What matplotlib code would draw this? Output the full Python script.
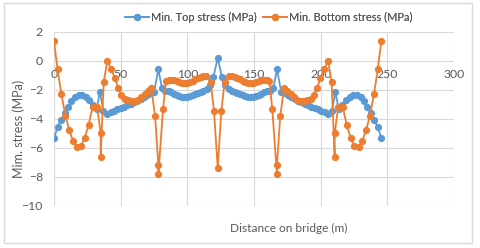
import matplotlib.pyplot as plt
from matplotlib.patches import Rectangle

# Min. Top stress (blue)
top_x = [0, 2.7, 5.5, 8.1, 10.6, 13, 15.6, 18.4, 21, 23.7, 26.3, 29.2, 32, 34.5, 37, 40,
         42.5, 45, 47.5, 50, 52.5, 55, 57.5, 60, 62.5, 65, 67.5, 70, 72.5, 75, 78.3, 81, 83.5,
         86, 88, 90, 92, 94, 96, 98, 100, 102, 104, 106, 108, 110, 112, 114.5, 117, 119.5,
         122.8,
         126, 128.5, 131, 133.5, 135.5, 137.5, 139.5, 141.5, 143.5, 145.5, 147.5, 149.5, 151.5,
         153.5, 155.5, 157.5, 159.5, 162, 164.5, 167.2, 170.5, 173, 175.5, 178, 180.5, 183,
         185.5, 188, 190.5, 193, 195.5, 198, 200.5, 203, 205.5, 208.5, 211, 213.5, 216.3,
         219.2, 221.8, 224.5, 227.1, 229.9, 232.4, 234.9, 237.4, 240, 242.8, 245.5]
top_y = [-5.35, -4.55, -4.05, -3.6, -3.2, -2.8, -2.5, -2.36, -2.38, -2.5, -2.7, -3.05, -3.3,
         -2.15, -3.45, -3.65,
         -3.55, -3.45, -3.35, -3.25, -3.15, -3.05, -2.95, -2.85, -2.75, -2.62, -2.5, -2.38,
         -2.25, -2.15, -0.6, -1.9, -2.1,
         -2.05, -2.15, -2.27, -2.37, -2.45, -2.5, -2.52, -2.5, -2.45, -2.38, -2.3, -2.22, -2.13,
         -2.05, -1.95, -1.65, -1.15,
         0.2,
         -1.15, -1.65, -1.95, -2.05, -2.13, -2.22, -2.3, -2.38, -2.45, -2.5, -2.52, -2.5, -2.45,
         -2.37, -2.27, -2.15, -2.05, -2.1, -1.9, -0.6, -2.15, -2.25, -2.38, -2.5, -2.62, -2.75,
         -2.85, -2.95, -3.05, -3.15, -3.25, -3.35, -3.45, -3.55, -3.65, -3.45, -2.15, -3.3,
         -3.05, -2.7, -2.5, -2.38, -2.36, -2.5, -2.8, -3.2, -3.6, -4.05, -4.55, -5.35]

# Min. Bottom stress (orange)
bot_x = [0, 2.7, 5.5, 8.6, 11.5, 14.2, 17, 20.3, 23, 26, 29, 32.3, 35, 35, 37.3, 40, 42.8,
         45.7, 48.2, 50.6, 53, 55.5, 58, 60.5, 63, 65.5, 68, 70.5, 73, 75.8, 78.3, 78.3, 81.8,
         84, 86, 88, 90, 92, 94, 96, 98, 100, 102, 104, 106, 108, 110, 112, 114, 117.5, 120,
         122.8,
         125.5, 128, 131.5, 133.5, 135.5, 137.5, 139.5, 141.5, 143.5, 145.5, 147.5, 149.5,
         151.5, 153.5, 155.5, 157.5, 159.5, 161.5, 163.7, 167.2, 167.2, 169.7, 172.5, 175,
         177.5, 180, 182.5, 185, 187.5, 190, 192.5, 194.9, 197.3, 199.8, 202.7, 205.5, 208.2,
         210.5, 210.5, 213.2, 216.5, 219.5, 222.5, 225.2, 228.5, 231.3, 234, 236.9, 240, 242.8,
         245.5]
bot_y = [1.35, -0.6, -2.3, -3.8, -4.8, -5.5, -5.95, -5.85, -5.3, -4.4, -3.15, -3.15, -5.0,
         -6.6, -1.45, 0.0, -0.55, -1.2, -1.9, -2.35, -2.6, -2.72, -2.8, -2.78, -2.68, -2.5,
         -2.3, -2.05, -1.9, -3.8, -7.2, -7.8, -3.3,
         -1.4, -1.3, -1.3, -1.35, -1.42, -1.48, -1.52, -1.53, -1.5, -1.45, -1.38, -1.28, -1.18,
         -1.1, -1.05, -1.02, -1.45, -3.47,
         -7.4,
         -3.47, -1.45, -1.02, -1.05, -1.1, -1.18, -1.28, -1.38, -1.45, -1.5, -1.53, -1.52,
         -1.48, -1.42, -1.35, -1.3, -1.3, -1.4, -3.3, -7.8, -7.2, -3.8, -1.9, -2.05, -2.3,
         -2.5, -2.68, -2.78, -2.8, -2.72, -2.6, -2.35, -1.9, -1.2, -0.55, 0.0, -1.45, -6.6,
         -5.0, -3.15, -3.15, -4.4, -5.3, -5.85, -5.95, -5.5, -4.8, -3.8, -2.3, -0.6, 1.35]

blue = '#5B9BD5'
orange = '#ED7D31'
grey = '#595959'

plt.rcParams['font.family'] = ['Lato', 'DejaVu Sans']

fig = plt.figure(figsize=(4.8, 2.48), dpi=100)
ax = fig.add_axes([0.1125, 0.1694, 0.8333, 0.7026])

l1, = ax.plot(top_x, top_y, '-o', color=blue, lw=1.3, ms=4.2, label='Min. Top stress (MPa)')
l2, = ax.plot(bot_x, bot_y, '-o', color=orange, lw=1.3, ms=4.2, label='Min. Bottom stress (MPa)')

ax.set_xlim(0, 300)
ax.set_ylim(-10, 2)
ax.set_xticks(range(0, 301, 50))
ax.set_yticks(range(-10, 3, 2))
ax.grid(True, color='#D9D9D9', lw=0.8)
ax.set_axisbelow(True)
for s in ['top', 'right', 'left']:
    ax.spines[s].set_visible(False)
ax.spines['bottom'].set_position(('data', 0))
ax.spines['bottom'].set_visible(False)
ax.tick_params(length=0, labelsize=8.8, labelcolor=grey)
ax.tick_params(axis='x', pad=6)
ax.tick_params(axis='y', pad=8)

fig.text(0.038, 0.48, 'Mim. stress (MPa)', rotation=90, ha='center', va='center',
         fontsize=9, color=grey)
fig.text(0.602, 0.08, 'Distance on bridge (m)', ha='center', va='center',
         fontsize=8.6, color=grey)

# two legend entries placed separately, as in the original
for line, x0 in [(l1, 125 / 480), (l2, 263 / 480)]:
    leg = fig.legend(handles=[line], loc='center left', bbox_to_anchor=(x0, 0.931),
                     frameon=False, fontsize=7.9, labelcolor=grey, handlelength=2.2,
                     handletextpad=0.2, borderpad=0, borderaxespad=0)
    fig.add_artist(leg)

fig.patches.append(Rectangle((4.3 / 480, 5 / 248), 467.7 / 480, 240.3 / 248,
                             transform=fig.transFigure, fill=False,
                             edgecolor='#D9D9D9', lw=1))

plt.savefig('out.png', dpi=100)
